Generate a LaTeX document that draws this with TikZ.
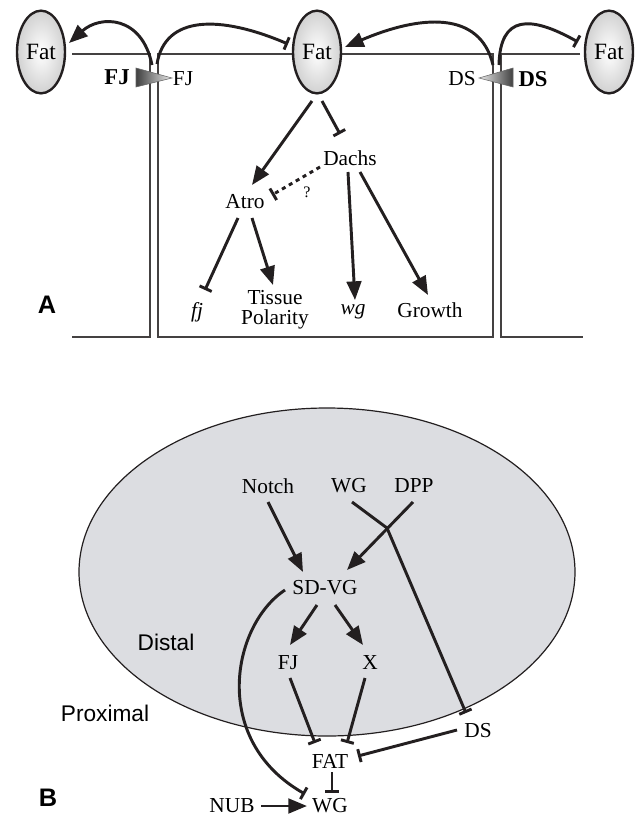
\documentclass[tikz,border=0pt]{standalone}
\usepackage{fontspec}
\setmainfont{Liberation Serif}
\setsansfont{Liberation Sans}
\usetikzlibrary{arrows.meta,shapes.geometric,calc}

\definecolor{ellgray}{RGB}{220,221,225}
\definecolor{ink}{RGB}{35,31,32}

\tikzset{every picture/.style={line width=0.75pt}}
\tikzset{
  lbl/.style={inner sep=0.75pt, align=center, font=\fontsize{16}{15}\selectfont},
  fatnode/.style={ellipse, draw=ink, line width=1.8pt, minimum width=36pt, minimum height=62pt, inner sep=0pt,
    inner color=white, outer color=black!18, font=\fontsize{17.5}{20}\selectfont},
  panel/.style={inner sep=0.75pt, font=\sffamily\bfseries\fontsize{19}{22}\selectfont},
  region/.style={inner sep=0.75pt, font=\sffamily\fontsize{17}{20}\selectfont},
  wall/.style={draw=ink!85, line width=0.8pt},
  act/.style={draw=ink, line width=2.2pt, -{Triangle[length=14pt,width=11pt]}},
  inh/.style={draw=ink, line width=2.2pt, -{Bar[width=10pt]}},
}

\begin{document}
\begin{tikzpicture}[x=0.75pt,y=0.75pt,yscale=-1,xscale=1]
\useasboundingbox (0,0) rectangle (642,819);

%%% Panel A

%Cell walls
\draw [wall] (72,54) -- (150,54) -- (150,337) -- (72,337) ;
\draw [wall] (292,54) -- (158,54) -- (158,337) -- (493,337) -- (493,54) -- (342,54) ;
\draw [wall] (580,54) -- (501,54) -- (501,337) -- (583,337) ;

%Shape: Triangle FJ
\draw [draw=black!60, line width=0.4pt, left color=black!75, right color=black!8] (136,68) -- (136,87) -- (172,78) -- cycle ;
%Shape: Triangle DS
\draw [draw=black!60, line width=0.4pt, left color=black!8, right color=black!75] (513,68) -- (513,87) -- (479,78) -- cycle ;

%Shape: Ellipse
\draw (41,52) node [fatnode] (fatL) {Fat};
\draw (317,52) node [fatnode] (fatC) {Fat};
\draw (609,52) node [fatnode] (fatR) {Fat};

% Text Node
\draw (117,77) node [lbl, font=\bfseries\fontsize{17}{20}\selectfont] (fjbold) {FJ};
\draw (183,79) node [lbl] (fjthin) {FJ};
\draw (462,79) node [lbl] (dsthin) {DS};
\draw (533,79) node [lbl, font=\bfseries\fontsize{17}{20}\selectfont] (dsbold) {DS};
\draw (350,158) node [lbl] (dachs) {Dachs};
\draw (245,202) node [lbl] (atro) {Atro};
\draw (307,192) node [lbl, font=\fontsize{12}{14}\selectfont] (query) {?};
\draw (197,312) node [lbl] (fj) {\textit{fj}};
\draw (275,310) node [lbl] (tissue) {Tissue\\Polarity};
\draw (353,312) node [lbl] (wgA) {\textit{wg}};
\draw (430,310) node [lbl] (growth) {Growth};
\draw (47,305) node [panel] (labA) {A};

\coordinate (fjwallL) at (152,65);
\coordinate (fjwallR) at (157,64);
\coordinate (dswallL) at (493,65);
\coordinate (dswallR) at (499,65);

%Curve Lines
\draw [act] (fjwallL) .. controls (142,15) and (100,15) .. ($(fatL)+(28,-9)$) ;
\draw [inh] (fjwallR) .. controls (165,15) and (220,15) .. ($(fatC)+(-29,-8)$) ;
\draw [act] (dswallL) .. controls (480,10) and (420,15) .. ($(fatC)+(28,-5)$) ;
\draw [inh] (dswallR) .. controls (500,15) and (530,15) .. ($(fatR)+(-31,-10)$) ;

%Straight Lines
\draw [act] ($(fatC)+(-5,49)$) -- ($(atro)+(7,-17)$) ;
\draw [inh] ($(fatC)+(5,49)$) -- ($(dachs)+(-10,-24)$) ;
\draw [inh, dash pattern=on 3pt off 3pt] ($(dachs)+(-30,9)$) -- ($(atro)+(27,-7)$) ;
\draw [inh] ($(atro)+(-7,16)$) -- ($(fj)+(8,-22)$) ;
\draw [act] ($(atro)+(7,16)$) -- ($(tissue)+(-2,-25)$) ;
\draw [act] ($(dachs)+(-2,14)$) -- ($(wgA)+(2,-12)$) ;
\draw [act] ($(dachs)+(10,14)$) -- ($(growth)+(-2,-15)$) ;

%%% Panel B

%Shape: Ellipse
\draw [draw=ink, line width=0.9pt, fill=ellgray] (327,572) ellipse [x radius=248, y radius=164] ;

% Text Node
\draw (268,486) node [lbl] (notch) {Notch};
\draw (349,486) node [lbl] (wgtop) {WG};
\draw (414,486) node [lbl] (dpp) {DPP};
\draw (325,588) node [lbl] (sdvg) {SD-VG};
\draw (288,663) node [lbl] (fjB) {FJ};
\draw (370,663) node [lbl] (xB) {X};
\draw (330,761) node [lbl] (fat) {FAT};
\draw (478,731) node [lbl] (ds) {DS};
\draw (330,806) node [lbl] (wgbot) {WG};
\draw (232,806) node [lbl] (nub) {NUB};
\draw (166,642) node [region] (distal) {Distal};
\draw (105,713) node [region] (proximal) {Proximal};
\draw (48,798) node [panel] (labB) {B};

\coordinate (cross) at (387,528);

%Straight Lines
\draw [act] ($(notch)+(0,16)$) -- ($(sdvg)+(-22,-16)$) ;
\draw [act] ($(dpp)+(-1,16)$) -- ($(sdvg)+(22,-18)$) ;
\draw [inh] ($(wgtop)+(3,16)$) -- (cross) -- ($(ds)+(-12,-18)$) ;
\draw [act] ($(sdvg)+(-8,17)$) -- ($(fjB)+(2,-18)$) ;
\draw [act] ($(sdvg)+(10,17)$) -- ($(xB)+(-7,-18)$) ;
\draw [inh] ($(fjB)+(2,15)$) -- ($(fat)+(-15,-18)$) ;
\draw [inh] ($(xB)+(-5,15)$) -- ($(fat)+(17,-18)$) ;
\draw [inh] ($(ds)+(-21,-1)$) -- ($(fat)+(28,-5)$) ;
\draw [inh] ($(fat)+(2,11)$) -- ($(wgbot)+(2,-13)$) ;
\draw [act] ($(nub)+(29,0)$) -- ($(wgbot)+(-23,0)$) ;

%Curve Lines
\draw [inh] ($(sdvg)+(-40,2)$) .. controls (232,625) and (210,740) .. ($(wgbot)+(-25,-12)$) ;

\end{tikzpicture}
\end{document}
